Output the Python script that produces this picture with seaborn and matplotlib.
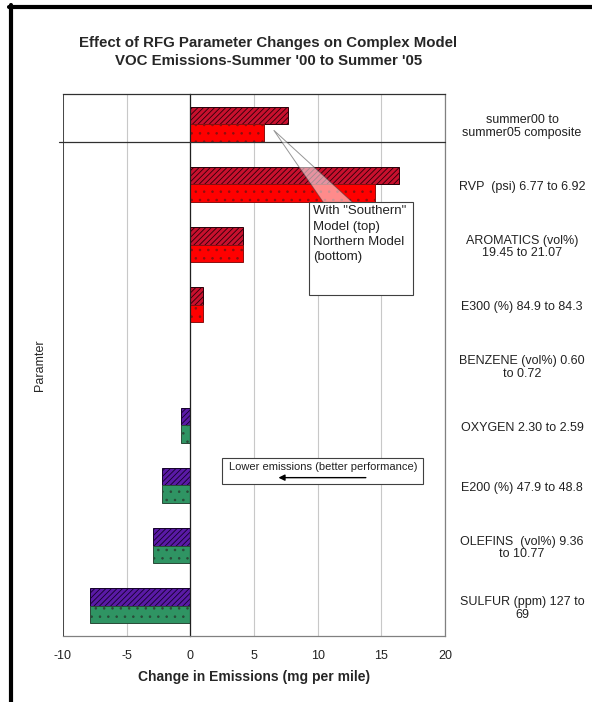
import numpy as np
import pandas as pd
import matplotlib
matplotlib.use("Agg")
import matplotlib.pyplot as plt
import matplotlib.transforms as mtransforms
from matplotlib.patches import Rectangle, Polygon
from matplotlib.lines import Line2D
import seaborn as sns

# data
parameters = ["summer00 to\nsummer05 composite",
              "RVP  (psi) 6.77 to 6.92",
              "AROMATICS (vol%)\n19.45 to 21.07",
              "E300 (%) 84.9 to 84.3",
              "BENZENE (vol%) 0.60\nto 0.72",
              "OXYGEN 2.30 to 2.59",
              "E200 (%) 47.9 to 48.8",
              "OLEFINS  (vol%) 9.36\nto 10.77",
              "SULFUR (ppm) 127 to\n69"]
southern = [7.7, 16.35, 4.15, 1.0, 0.0, -0.75, -2.2, -2.95, -7.9]
northern = [5.8, 14.5, 4.15, 1.0, 0.0, -0.75, -2.2, -2.95, -7.9]
models = ["Southern", "Northern"]
x_ticks = [-10, -5, 0, 5, 10, 15, 20]

sns.set_style("white")
plt.rcParams["font.family"] = ["Liberation Sans", "DejaVu Sans"]
plt.rcParams["hatch.linewidth"] = 0.6

df = pd.DataFrame({
    "parameter": parameters * 2,
    "change": southern + northern,
    "model": [models[0]] * len(parameters) + [models[1]] * len(parameters),
})

fig = plt.figure(figsize=(5.92, 7.02), dpi=100)
fig.patch.set_facecolor("white")
ax = fig.add_axes([0.1064, 0.094, 0.6453, 0.772])

sns.barplot(data=df, x="change", y="parameter", hue="model", orient="h",
            width=0.58, gap=0, legend=False, ax=ax, order=parameters,
            hue_order=models)

# colour bars by sign and model (Excel-ish fills)
styles = {
    (0, True): ("#c8102e", "#2a0008", "//////"),
    (1, True): ("#ff0000", "#8a1010", ".."),
    (0, False): ("#5a1aa6", "#14002a", "//////"),
    (1, False): ("#2f9463", "#2a4a38", ".."),
}
for i, cont in enumerate(ax.containers):
    for bar in cont:
        fc, ec, hatch = styles[(i, bar.get_width() >= 0)]
        bar.set_facecolor(fc)
        bar.set_edgecolor(ec)
        bar.set_hatch(hatch)
        bar.set_linewidth(0.7)

n = len(parameters)
ax.set_xlim(x_ticks[0], x_ticks[-1])
ax.set_ylim(n - 0.5, -0.5)
ax.set_xticks(x_ticks)
ax.set_xticklabels([str(t) for t in x_ticks], fontsize=9, color="#222222")
ax.set_yticks(np.arange(n - 1) + 0.5)
ax.set_yticklabels([])
ax.tick_params(axis="x", direction="out", length=5, color="#808080", pad=5)
ax.tick_params(axis="y", direction="out", length=4, color="#404040", width=0.8)

ax.grid(axis="x", color="#c8c8c8", linewidth=0.8)
ax.set_axisbelow(True)

ax.spines["left"].set_position(("data", 0))
ax.spines["left"].set_color("#202020")
ax.spines["left"].set_linewidth(0.9)
ax.spines["top"].set_color("#303030")
ax.spines["right"].set_color("#808080")
ax.spines["bottom"].set_color("#808080")
for s in ["top", "right", "bottom"]:
    ax.spines[s].set_linewidth(0.9)
ax.axvline(x_ticks[0], color="#303030", linewidth=1.2, zorder=3)

ax.set_xlabel("Change in Emissions (mg per mile)", fontsize=10,
              fontweight="bold", labelpad=6)
ax.set_ylabel("Paramter", fontsize=9)
ax.yaxis.set_label_coords(-0.045, 0.5)

# category labels on the right
trans = mtransforms.blended_transform_factory(ax.transAxes, ax.transData)
for i, lab in enumerate(parameters):
    ax.text(1.2016, i + 0.04, lab, transform=trans, ha="center", va="center",
            fontsize=9, color="#222222", linespacing=1.05, clip_on=False)

# separator under the composite row
ax.plot([-0.01, 1.0], [0.29, 0.29], transform=trans, color="#303030",
        linewidth=0.9, clip_on=False, zorder=4)

# callout for the model note
wedge = Polygon([[10.45, 1.3], [12.75, 1.3], [6.55, 0.1]], closed=True,
                facecolor="white", alpha=0.55, edgecolor="#404040",
                linewidth=0.7, zorder=5)
ax.add_patch(wedge)
ax.add_patch(Rectangle((9.35, 1.3), 8.1, 1.53, facecolor="white",
                       edgecolor="#404040", linewidth=0.8, zorder=6))
ax.text(9.65, 1.35, 'With "Southern"\nModel (top)\nNorthern Model\n(bottom)',
        fontsize=9.5, va="top", ha="left", linespacing=1.35, zorder=7,
        color="#222222")

# lower emissions note
ax.add_patch(Rectangle((2.5, 5.55), 15.8, 0.43, facecolor="white",
                       edgecolor="#404040", linewidth=0.8, zorder=6))
ax.text(10.4, 5.69, "Lower emissions (better performance)", fontsize=8,
        ha="center", va="center", zorder=7, color="#222222")
ax.annotate("", xy=(6.7, 5.87), xytext=(14.0, 5.87),
            arrowprops=dict(arrowstyle="-|>", color="black", lw=1.0,
                            mutation_scale=9), zorder=7)

fig.text(0.453, 0.926,
         "Effect of RFG Parameter Changes on Complex Model\n"
         "VOC Emissions-Summer '00 to Summer '05",
         ha="center", va="center", fontsize=10.8, fontweight="bold",
         linespacing=1.3)

# black page border at left and top
fig.add_artist(Line2D([11 / 592, 11 / 592], [0, 1 - 5 / 702],
                      color="black", linewidth=3))
fig.add_artist(Line2D([9 / 592, 1], [1 - 7 / 702, 1 - 7 / 702],
                      color="black", linewidth=3))

fig.savefig("out.png", dpi=100)
